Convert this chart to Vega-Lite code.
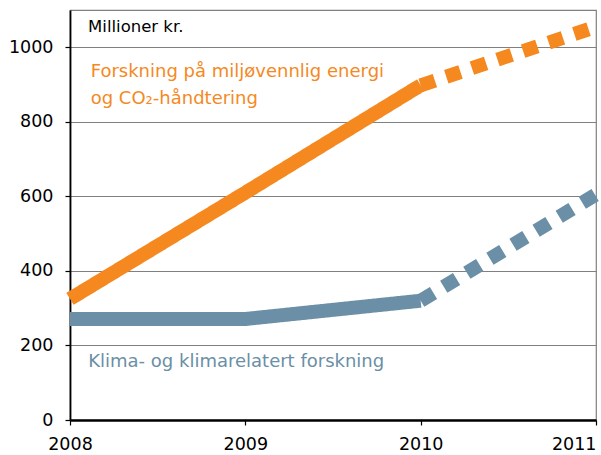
{
  "$schema": "https://vega.github.io/schema/vega-lite/v6.json",
  "width": 526,
  "height": 410,
  "autosize": {"type": "none"},
  "padding": {"left": 70, "top": 10, "right": 5, "bottom": 35},
  "background": "white",
  "config": {
    "font": "DejaVu Sans",
    "view": {"stroke": "#808080", "strokeWidth": 1.2},
    "axis": {
      "labelFont": "DejaVu Sans",
      "labelFontSize": 17.5,
      "labelColor": "#000000",
      "tickColor": "#000000",
      "domainColor": "#000000",
      "title": null
    }
  },
  "layer": [
    {
      "data": {
        "values": [
          {"series": "Forskning på miljøvennlig energi og CO₂-håndtering", "seg": "solid", "year": 2008, "value": 325},
          {"series": "Forskning på miljøvennlig energi og CO₂-håndtering", "seg": "solid", "year": 2009, "value": 610},
          {"series": "Forskning på miljøvennlig energi og CO₂-håndtering", "seg": "solid", "year": 2010, "value": 898},
          {"series": "Forskning på miljøvennlig energi og CO₂-håndtering", "seg": "dashed", "year": 2010, "value": 898},
          {"series": "Forskning på miljøvennlig energi og CO₂-håndtering", "seg": "dashed", "year": 2011, "value": 1055},
          {"series": "Klima- og klimarelatert forskning", "seg": "solid", "year": 2008, "value": 271},
          {"series": "Klima- og klimarelatert forskning", "seg": "solid", "year": 2009, "value": 271},
          {"series": "Klima- og klimarelatert forskning", "seg": "solid", "year": 2010, "value": 320},
          {"series": "Klima- og klimarelatert forskning", "seg": "dashed", "year": 2010, "value": 320},
          {"series": "Klima- og klimarelatert forskning", "seg": "dashed", "year": 2011, "value": 605}
        ]
      },
      "mark": {"type": "line", "strokeWidth": 14, "strokeCap": "butt", "strokeJoin": "miter"},
      "encoding": {
        "x": {
          "field": "year",
          "type": "quantitative",
          "scale": {"domain": [2008, 2011], "nice": false, "zero": false},
          "axis": {
            "values": [2008, 2009, 2010, 2011],
            "format": "d",
            "grid": false,
            "domainWidth": 2.5,
            "tickSize": 5,
            "tickWidth": 1.2,
            "labelPadding": 10,
            "labelAlign": {"expr": "datum.value == 2011 ? 'right' : 'center'"}
          }
        },
        "y": {
          "field": "value",
          "type": "quantitative",
          "scale": {"domain": [0, 1100], "nice": false},
          "axis": {
            "values": [0, 200, 400, 600, 800, 1000],
            "format": "d",
            "grid": true,
            "gridColor": "#808080",
            "gridWidth": 1.2,
            "gridOpacity": 1,
            "domainWidth": 1.8,
            "tickSize": 5,
            "tickWidth": 1.2,
            "labelPadding": 12
          }
        },
        "color": {
          "field": "series",
          "type": "nominal",
          "scale": {
            "domain": ["Forskning på miljøvennlig energi og CO₂-håndtering", "Klima- og klimarelatert forskning"],
            "range": ["#F5891F", "#6A8FA6"]
          },
          "legend": null
        },
        "strokeDash": {
          "field": "seg",
          "type": "nominal",
          "scale": {"domain": ["solid", "dashed"], "range": [[1, 0], [15, 12]]},
          "legend": null
        }
      }
    },
    {
      "data": {"values": [{"label": "Millioner kr."}]},
      "mark": {"type": "text", "font": "DejaVu Sans", "fontSize": 16.5, "color": "#000000", "align": "left", "baseline": "alphabetic"},
      "encoding": {
        "text": {"field": "label"},
        "x": {"datum": 2008.103, "type": "quantitative"},
        "y": {"datum": 1042, "type": "quantitative"}
      }
    },
    {
      "data": {"values": [{"label": "orange"}]},
      "mark": {"type": "text", "text": ["Forskning på miljøvennlig energi", "og CO₂-håndtering"], "lineHeight": 27, "font": "DejaVu Sans", "fontSize": 18, "color": "#F5891F", "align": "left", "baseline": "alphabetic"},
      "encoding": {
        "x": {"datum": 2008.118, "type": "quantitative"},
        "y": {"datum": 921, "type": "quantitative"}
      }
    },
    {
      "data": {"values": [{"label": "Klima- og klimarelatert forskning"}]},
      "mark": {"type": "text", "font": "DejaVu Sans", "fontSize": 18, "color": "#6A8FA6", "align": "left", "baseline": "alphabetic"},
      "encoding": {
        "text": {"field": "label"},
        "x": {"datum": 2008.104, "type": "quantitative"},
        "y": {"datum": 143.5, "type": "quantitative"}
      }
    }
  ]
}
